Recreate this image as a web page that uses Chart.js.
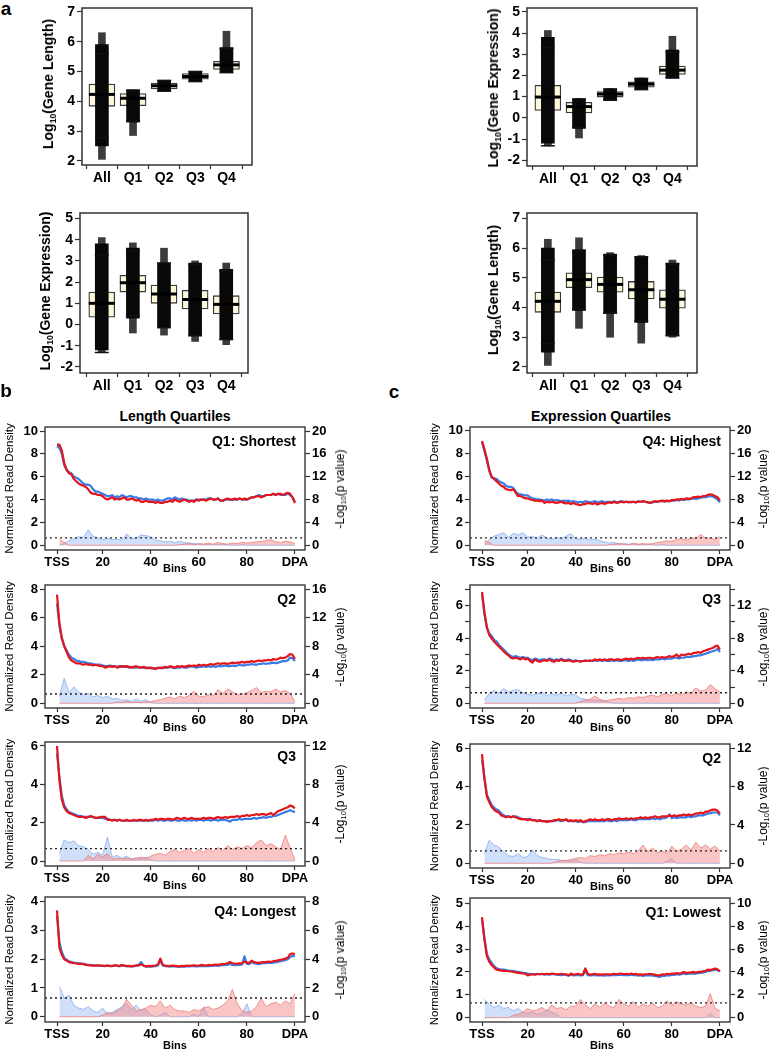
<!DOCTYPE html>
<html lang="en">
<head>
<meta charset="UTF-8" />
<title>Read density by gene length and expression quartiles</title>
<script src="https://cdn.jsdelivr.net/npm/chart.js"></script>
<style>
  body { margin: 0; background: #fff; }
  #page { position: relative; width: 769px; height: 1050px; overflow: hidden;
          font-family: Arial, "Liberation Sans", sans-serif; color: #000; }
  #page canvas { position: absolute; }
  .txt { position: absolute; white-space: nowrap; line-height: 1; transform: translate(-50%, -50%); }
  .rot { transform: translate(-50%, -50%) rotate(-90deg); }
  .rgt { transform: translate(-100%, -50%); }
  .b { font-weight: bold; }
  sub { font-size: 0.62em; vertical-align: -0.3em; line-height: 0; }
</style>
</head>
<body>
<div id="page"></div>
<script>
// ---------- box plots (panel a) ----------
const groups = ['All', 'Q1', 'Q2', 'Q3', 'Q4'];

// log10 gene length, genes split by length quartile: [lower quartile, median, upper quartile]
const lenBox   = [[3.83, 4.23, 4.58], [3.85, 4.10, 4.26], [4.41, 4.52, 4.61], [4.74, 4.83, 4.93], [5.07, 5.22, 5.34]];
const lenWhisk = [[2.78, 5.60], [3.34, 4.37], [4.34, 4.70], [4.66, 5.00], [4.96, 5.77]];
const lenCloud = [[2.50, 5.90], [3.30, 4.38], [4.34, 4.70], [4.66, 5.00], [4.98, 5.80]];
const lenTail  = [[2.05, 6.30], [2.85, 4.38], [4.34, 4.70], [4.66, 5.00], [4.98, 6.35]];

// log10 gene expression, genes split by expression quartile
const exprBox   = [[0.35, 0.98, 1.53], [0.23, 0.53, 0.73], [0.98, 1.12, 1.24], [1.45, 1.59, 1.70], [2.05, 2.25, 2.44]];
const exprWhisk = [[-1.32, 3.30], [-0.45, 0.88], [0.83, 1.36], [1.33, 1.86], [1.88, 3.10]];
const exprCloud = [[-1.20, 3.80], [-0.50, 0.90], [0.83, 1.36], [1.33, 1.86], [1.88, 3.20]];
const exprTail  = [[-1.32, 4.12], [-0.95, 0.92], [0.83, 1.38], [1.33, 1.88], [1.88, 3.85]];

// log10 gene expression, genes split by length quartile
const exprByLenBox   = [[0.35, 1.00, 1.53], [1.53, 1.97, 2.32], [1.00, 1.44, 1.86], [0.73, 1.18, 1.61], [0.50, 0.95, 1.36]];
const exprByLenWhisk = [[-1.32, 3.27], [0.42, 3.45], [-0.15, 2.90], [-0.53, 2.83], [-0.71, 2.53]];
const exprByLenCloud = [[-1.20, 3.80], [0.30, 3.60], [-0.15, 2.90], [-0.50, 2.90], [-0.70, 2.60]];
const exprByLenTail  = [[-1.30, 4.10], [-0.40, 3.85], [-0.50, 3.60], [-0.80, 3.00], [-0.95, 2.90]];

// log10 gene length, genes split by expression quartile
const lenByExprBox   = [[3.84, 4.21, 4.52], [4.67, 4.94, 5.17], [4.52, 4.78, 5.03], [4.29, 4.60, 4.88], [3.98, 4.28, 4.60]];
const lenByExprWhisk = [[2.78, 5.59], [3.95, 5.90], [3.82, 5.76], [3.55, 5.71], [3.05, 5.47]];
const lenByExprCloud = [[2.50, 6.00], [3.90, 5.95], [3.80, 5.80], [3.50, 5.70], [3.05, 5.50]];
const lenByExprTail  = [[2.05, 6.30], [3.30, 6.35], [3.00, 5.85], [2.80, 5.75], [3.00, 5.60]];

// ---------- metagene profiles (panels b, c) ----------
const binTicks  = [1, 20, 40, 60, 80, 100];
const binLabels = ['TSS', '20', '40', '60', '80', 'DPA'];
const SIG = 1.3; // -log10(0.05)

// Length Q1: Shortest
const lenQ1Red = [8.8,8.8,8.3,7.2,6.6,6.3,6.2,5.8,5.6,5.4,5.3,5.2,5.1,4.9,4.6,4.5,4.5,4.4,4.4,4.3,
  4.1,4.0,4.1,4.2,4.0,4.1,4.0,4.1,4.2,4.0,4.0,4.1,4.0,3.9,4.0,3.8,3.8,3.9,3.8,3.8,
  3.8,3.7,3.8,3.7,3.7,3.8,3.8,3.9,3.8,4.0,3.9,3.8,3.9,4.0,3.9,3.8,3.9,3.8,4.0,3.9,
  4.0,4.0,3.9,4.0,4.1,4.0,4.0,4.1,3.9,3.9,4.0,4.1,4.0,4.0,4.1,4.0,4.1,4.0,4.1,4.0,
  4.1,4.2,4.2,4.3,4.3,4.2,4.3,4.4,4.4,4.4,4.5,4.4,4.5,4.5,4.4,4.5,4.6,4.5,4.2,3.7];
const lenQ1Blue = [8.7,8.5,8.0,7.0,6.6,6.4,6.3,6.0,5.9,5.8,5.6,5.4,5.3,5.3,5.2,4.9,4.7,4.7,4.6,4.5,
  4.4,4.3,4.3,4.4,4.2,4.3,4.2,4.4,4.3,4.2,4.3,4.3,4.2,4.2,4.1,4.1,4.0,4.1,4.0,4.0,
  4.0,3.9,4.0,3.9,3.9,4.0,4.1,4.1,4.0,4.2,4.1,4.0,4.1,4.0,4.0,3.9,3.9,3.9,4.0,4.0,
  4.0,4.0,4.0,4.1,4.1,4.0,4.0,4.1,3.9,3.9,4.0,4.0,4.0,4.0,4.0,4.0,4.1,4.0,4.0,4.0,
  4.1,4.2,4.2,4.3,4.4,4.3,4.3,4.4,4.4,4.4,4.5,4.4,4.5,4.4,4.4,4.4,4.5,4.4,4.2,3.8];
const lenQ1PRed = [1.0,0.5,0,0,0, 0,0,0,0,0, 0,0,0,0,0, 0,0,0,0,0, 0,0,0,0,0,
  0.1,0.2,0.3,0.1,0.3, 0.2,0.4,0.2,0.5,0.3, 0.2,0.4,0.3,0.5,0.4, 0.5,0.6,0.7,0.8,1.0, 0.6,0.5,0.7,0.6,0.3];
const lenQ1PBlue = [0,0.3,0.8,1.2,1.5, 1.4,2.7,1.6,1.3,1.0, 1.2,1.0,1.1,0.9,2.0, 1.1,1.3,1.8,1.7,1.5,
  0.9,0.8,0.6,0.7,0.5, 0.7,0.5,0.4,0.3,0.2, 0.2,0.1,0.1,0.1,0.1, 0.1,0,0,0.1,0, 0,0,0,0,0, 0,0,0,0,0];

// Length Q2
const lenQ2Red = [7.6,5.6,4.6,4.0,3.6,3.2,3.0,2.9,2.8,2.8,2.75,2.7,2.75,2.7,2.7,2.65,2.7,2.65,2.6,2.6,
  2.5,2.55,2.6,2.55,2.6,2.5,2.55,2.6,2.55,2.6,2.55,2.5,2.55,2.6,2.5,2.5,2.55,2.5,2.45,2.5,
  2.45,2.4,2.5,2.45,2.5,2.55,2.5,2.6,2.55,2.5,2.6,2.55,2.6,2.55,2.6,2.65,2.6,2.65,2.6,2.7,
  2.65,2.7,2.65,2.7,2.75,2.7,2.75,2.8,2.75,2.8,2.8,2.75,2.8,2.85,2.8,2.85,2.85,2.9,2.85,2.9,
  2.9,2.95,2.9,2.95,3.0,2.95,3.0,3.0,3.05,3.0,3.1,3.05,3.1,3.2,3.15,3.2,3.3,3.45,3.4,3.1];
const lenQ2Blue = [7.0,5.4,4.5,4.0,3.7,3.4,3.2,3.1,3.0,2.95,2.9,2.9,2.85,2.8,2.8,2.75,2.7,2.7,2.7,2.65,
  2.6,2.6,2.65,2.6,2.6,2.55,2.6,2.55,2.6,2.55,2.5,2.55,2.5,2.5,2.55,2.5,2.5,2.45,2.5,2.45,
  2.45,2.45,2.45,2.5,2.45,2.5,2.5,2.55,2.5,2.45,2.5,2.5,2.55,2.5,2.5,2.55,2.6,2.55,2.5,2.55,
  2.55,2.6,2.55,2.6,2.55,2.6,2.55,2.6,2.6,2.6,2.65,2.6,2.6,2.65,2.6,2.65,2.7,2.65,2.65,2.7,
  2.7,2.75,2.7,2.7,2.75,2.75,2.8,2.75,2.8,2.8,2.85,2.8,2.85,2.9,2.95,2.95,3.0,3.2,3.15,2.95];
const lenQ2PRed = [0,0,0,0,0, 0,0,0,0,0, 0,0,0.2,0.1,0.3, 0.1,0.2,0.1,0.2,0.2, 0.4,0.5,0.7,0.9,0.6,
  1.0,0.8,1.1,1.7,1.0, 0.9,1.2,1.1,1.9,1.4, 2.0,1.6,1.2,1.3,1.5, 1.8,2.2,1.5,1.7,1.6, 2.0,1.6,1.8,1.4,0.2];
const lenQ2PBlue = [1.0,3.5,1.5,2.3,1.6, 1.2,1.4,0.9,1.1,0.8, 1.0,0.6,0.7,0.4,0.5, 0.3,0.6,0.3,0.5,0.1,
  0,0,0,0,0, 0,0,0,0,0, 0,0,0,0,0, 0,0,0,0,0, 0,0,0,0,0, 0,0,0,0,0];

// Length Q3
const lenQ3Red = [6.0,4.2,3.2,2.8,2.6,2.5,2.45,2.4,2.35,2.3,2.3,2.3,2.25,2.3,2.35,2.3,2.25,2.25,2.3,2.3,
  2.3,2.15,2.15,2.1,2.15,2.1,2.15,2.1,2.1,2.15,2.1,2.1,2.15,2.1,2.15,2.15,2.1,2.15,2.1,2.15,
  2.15,2.2,2.15,2.2,2.2,2.15,2.2,2.2,2.15,2.2,2.25,2.2,2.2,2.25,2.2,2.2,2.25,2.2,2.2,2.2,
  2.2,2.25,2.2,2.25,2.25,2.2,2.25,2.3,2.25,2.25,2.3,2.25,2.3,2.3,2.3,2.35,2.3,2.35,2.35,2.4,
  2.35,2.4,2.4,2.45,2.4,2.45,2.45,2.4,2.45,2.5,2.4,2.5,2.6,2.65,2.7,2.75,2.8,2.9,2.85,2.75];
const lenQ3Blue = [5.6,4.4,3.4,2.9,2.7,2.55,2.5,2.45,2.4,2.35,2.35,2.3,2.3,2.3,2.3,2.3,2.25,2.25,2.25,2.25,
  2.2,2.2,2.15,2.15,2.15,2.1,2.15,2.1,2.1,2.1,2.1,2.1,2.1,2.1,2.1,2.1,2.1,2.1,2.1,2.1,
  2.1,2.15,2.1,2.15,2.1,2.1,2.15,2.1,2.1,2.15,2.1,2.1,2.15,2.1,2.1,2.15,2.1,2.15,2.1,2.15,
  2.15,2.1,2.15,2.15,2.1,2.15,2.15,2.1,2.15,2.15,2.15,2.1,2.05,2.15,2.15,2.15,2.2,2.15,2.2,2.2,
  2.2,2.2,2.25,2.2,2.25,2.25,2.3,2.25,2.3,2.3,2.35,2.35,2.4,2.45,2.5,2.55,2.6,2.65,2.6,2.55];
const lenQ3PRed = [0,0,0,0,0, 0,0.6,0.2,0.7,0.4, 0.8,0.2,0.3,0.2,0.3, 0.2,0.3,0.4,0.3,0.5, 0.7,0.8,0.6,1.0,1.2,
  0.9,1.1,1.3,0.8,1.2, 0.9,1.3,1.0,1.4,1.1, 1.6,1.2,1.5,1.3,1.6, 1.4,1.9,2.2,1.6,1.8, 1.5,1.2,2.7,1.4,0.1];
const lenQ3PBlue = [0.8,2.2,1.9,2.1,1.6, 1.5,1.2,0.7,0.9,0.6, 2.5,0.4,0.6,0.3,0.5, 0.2,0.3,0.2,0.4,0.1,
  0,0,0,0,0, 0,0,0,0,0, 0,0,0,0,0, 0,0,0,0,0, 0,0,0,0,0, 0,0,0,0,0];

// Length Q4: Longest
const lenQ4Red = [3.7,2.4,2.15,2.0,1.95,1.9,1.88,1.86,1.85,1.84,1.84,1.83,1.8,1.79,1.78,1.78,1.78,1.79,1.78,1.77,
  1.77,1.78,1.76,1.77,1.79,1.78,1.76,1.8,1.78,1.76,1.77,1.75,1.77,1.79,1.78,1.82,1.78,1.75,1.77,1.76,
  1.77,1.78,1.82,2.02,1.8,1.78,1.77,1.76,1.78,1.77,1.76,1.75,1.77,1.76,1.78,1.77,1.78,1.79,1.77,1.78,
  1.8,1.79,1.78,1.8,1.79,1.8,1.81,1.8,1.82,1.83,1.84,1.86,1.9,1.86,1.85,1.84,1.86,1.85,1.92,1.88,
  1.87,1.95,1.9,1.88,1.87,1.89,1.9,1.9,1.92,1.9,1.93,1.94,1.96,1.98,2.0,2.02,2.05,2.18,2.2,2.18];
const lenQ4Blue = [3.5,2.6,2.25,2.05,1.98,1.93,1.9,1.88,1.87,1.86,1.85,1.84,1.82,1.8,1.8,1.79,1.78,1.78,1.77,1.77,
  1.76,1.78,1.77,1.76,1.78,1.77,1.76,1.78,1.77,1.76,1.76,1.75,1.76,1.77,1.8,1.9,1.78,1.74,1.75,1.74,
  1.75,1.76,1.78,1.95,1.78,1.76,1.75,1.75,1.76,1.75,1.74,1.74,1.75,1.74,1.76,1.75,1.76,1.76,1.75,1.76,
  1.77,1.76,1.77,1.76,1.77,1.77,1.78,1.77,1.78,1.79,1.8,1.8,1.84,1.8,1.79,1.8,1.8,1.82,2.1,1.84,
  1.83,1.9,1.86,1.84,1.83,1.85,1.86,1.86,1.87,1.87,1.88,1.9,1.91,1.93,1.95,1.97,2.0,2.08,2.12,2.1];
const lenQ4PRed = [0,0,0,0,0, 0,0,0,0,0.1, 0.3,0.2,0.4,0.6,1.2, 0.8,0.4,0.5,0.6,0.8, 0.7,1.1,0.6,0.8,0.5,
  0.4,0.4,0.3,0.5,0.4, 0.6,0.7,0.5,0.6,0.8, 1.1,1.9,0.9,0.4,0.3, 0.4,0.7,1.3,0.7,0.9, 1.0,0.8,1.1,0.9,1.6];
const lenQ4PBlue = [2.1,1.3,1.5,0.8,0.6, 0.5,0.7,0.4,0.3,0.6, 0.2,0.3,0.5,0.7,0.9, 0.5,0.8,0.4,0.5,0.1,
  0,0.1,0.3,0,0, 0,0,0,0.2,0, 0.7,0,0,0,0, 0,0,0,0.2,0.9, 0,0,0,0,0, 0,0,0,0,0];

// Expression Q4: Highest
const exprQ4Red = [9.1,8.4,7.6,6.6,6.0,5.8,5.6,5.4,5.2,5.1,4.9,4.85,4.8,4.9,4.6,4.3,4.3,4.2,4.1,4.1,
  4.0,3.95,3.9,3.9,3.85,3.9,3.7,3.8,3.75,3.8,3.75,3.7,3.75,3.8,3.7,3.65,3.7,3.6,3.7,3.6,
  3.55,3.5,3.6,3.6,3.7,3.65,3.6,3.7,3.55,3.65,3.7,3.6,3.7,3.75,3.7,3.8,3.7,3.75,3.8,3.75,
  3.8,3.75,3.8,3.8,3.75,3.8,3.8,3.85,3.8,3.75,3.7,3.8,3.85,3.8,3.85,3.9,3.85,3.9,3.85,3.95,
  3.95,4.0,4.0,4.05,4.0,4.1,4.05,4.1,4.2,4.2,4.25,4.2,4.3,4.3,4.4,4.45,4.4,4.3,4.2,3.9];
const exprQ4Blue = [9.0,8.2,7.4,6.5,5.9,5.85,5.8,5.6,5.5,5.4,5.2,5.1,5.1,5.0,4.7,4.5,4.45,4.4,4.35,4.35,
  4.2,4.1,4.05,4.0,4.0,3.95,3.9,4.0,3.95,4.0,3.9,3.95,3.9,3.85,3.9,3.85,3.9,3.8,3.85,3.8,
  3.75,3.8,3.75,3.85,3.8,3.75,3.8,3.85,3.75,3.8,3.85,3.75,3.8,3.8,3.75,3.85,3.75,3.8,3.85,3.8,
  3.8,3.8,3.75,3.8,3.75,3.85,3.8,3.8,3.8,3.75,3.7,3.75,3.8,3.8,3.85,3.85,3.8,3.85,3.85,3.9,
  3.9,3.95,3.9,4.0,3.95,4.0,4.0,4.05,4.1,4.05,4.1,4.15,4.2,4.2,4.25,4.3,4.25,4.15,4.0,3.75];
const exprQ4PRed = [0.8,0.5,0,0,0, 0,0,0,0,0, 0,0,0,0,0, 0,0,0,0,0, 0,0,0,0,0,
  0,0.1,0.2,0.3,0.2, 0.1,0.3,0.2,0.3,0.2, 0.3,0.5,0.6,0.8,0.7, 1.0,1.2,0.9,1.3,1.2, 1.9,1.2,1.3,1.0,1.5];
const exprQ4PBlue = [0.2,1.0,1.6,1.9,2.2, 1.4,2.1,1.8,2.2,1.4, 1.6,1.2,1.8,1.3,1.0, 1.4,1.1,1.6,2.0,1.2,
  1.0,1.3,0.9,1.1,0.8, 0.6,0.4,0.5,0.2,0.3, 0.2,0.3,0.1,0.1,0.2, 0.1,0,0.1,0,0, 0,0,0,0,0, 0,0,0,0,0];

// Expression Q3
const exprQ3Red = [6.85,5.6,4.7,4.2,4.0,3.8,3.65,3.5,3.35,3.2,3.05,2.95,2.8,2.75,2.8,2.75,2.7,2.8,2.7,2.75,
  2.6,2.5,2.7,2.6,2.55,2.6,2.65,2.6,2.7,2.6,2.55,2.65,2.6,2.7,2.6,2.6,2.65,2.6,2.55,2.6,
  2.6,2.55,2.6,2.6,2.6,2.65,2.6,2.7,2.65,2.7,2.65,2.7,2.65,2.7,2.7,2.65,2.7,2.7,2.65,2.7,
  2.75,2.7,2.75,2.7,2.75,2.8,2.75,2.8,2.75,2.8,2.8,2.75,2.8,2.85,2.8,2.85,2.8,2.85,2.9,2.85,
  2.9,3.0,2.85,3.0,2.95,3.0,3.05,3.0,3.1,3.1,3.15,3.1,3.2,3.25,3.3,3.35,3.4,3.5,3.55,3.3];
const exprQ3Blue = [6.7,5.5,4.65,4.3,4.15,3.9,3.8,3.6,3.45,3.3,3.15,3.0,2.9,2.85,2.9,2.85,2.8,2.85,2.8,2.8,
  2.7,2.65,2.75,2.7,2.65,2.7,2.7,2.65,2.75,2.7,2.65,2.7,2.65,2.75,2.65,2.65,2.7,2.65,2.6,2.65,
  2.6,2.6,2.6,2.65,2.6,2.6,2.6,2.65,2.6,2.65,2.6,2.65,2.6,2.6,2.65,2.6,2.65,2.6,2.6,2.65,
  2.65,2.6,2.65,2.6,2.65,2.7,2.65,2.65,2.7,2.65,2.7,2.65,2.7,2.7,2.7,2.75,2.7,2.75,2.75,2.75,
  2.8,2.8,2.75,2.8,2.8,2.85,2.85,2.85,2.9,2.9,2.95,2.95,3.0,3.05,3.1,3.15,3.2,3.25,3.35,3.15];
const exprQ3PRed = [0,0,0,0,0, 0,0,0,0,0, 0,0,0,0,0, 0,0,0,0,0, 0.2,0.4,0.5,0.9,0.5,
  0.3,0.4,0.5,0.6,0.5, 0.7,0.6,0.8,0.7,0.9, 1.0,0.8,1.1,1.2,0.9, 1.3,1.0,1.4,1.2,1.9, 1.5,1.6,2.3,1.8,1.4];
const exprQ3PBlue = [0.4,1.2,1.6,1.3,1.8, 1.4,1.6,1.7,1.3,1.1, 1.0,1.2,1.4,0.9,1.2, 1.0,1.3,0.9,1.1,1.0,
  0.6,0.5,0.3,0.4,0.3, 0.3,0.1,0,0,0, 0,0,0,0,0, 0,0,0,0,0, 0,0,0,0,0, 0,0,0,0,0];

// Expression Q2
const exprQ2Red = [5.7,4.4,3.5,3.2,2.95,2.8,2.7,2.65,2.5,2.45,2.4,2.45,2.4,2.45,2.4,2.35,2.3,2.3,2.3,2.25,
  2.3,2.25,2.25,2.2,2.25,2.2,2.2,2.15,2.2,2.2,2.25,2.25,2.3,2.25,2.25,2.3,2.2,2.25,2.2,2.25,
  2.2,2.25,2.15,2.2,2.25,2.3,2.25,2.3,2.25,2.25,2.3,2.25,2.3,2.3,2.25,2.3,2.3,2.35,2.3,2.3,
  2.35,2.3,2.35,2.3,2.35,2.35,2.4,2.35,2.4,2.35,2.4,2.4,2.45,2.4,2.4,2.45,2.45,2.45,2.5,2.45,
  2.5,2.45,2.5,2.5,2.55,2.5,2.55,2.5,2.55,2.6,2.6,2.65,2.6,2.7,2.7,2.75,2.8,2.8,2.75,2.6];
const exprQ2Blue = [5.4,4.5,3.6,3.3,3.05,2.9,2.8,2.75,2.6,2.5,2.45,2.45,2.4,2.45,2.45,2.4,2.35,2.3,2.3,2.3,
  2.3,2.25,2.25,2.2,2.25,2.2,2.2,2.2,2.2,2.2,2.2,2.25,2.25,2.2,2.25,2.25,2.2,2.2,2.2,2.2,
  2.15,2.2,2.15,2.15,2.2,2.2,2.2,2.2,2.2,2.2,2.2,2.2,2.25,2.2,2.2,2.25,2.2,2.25,2.25,2.25,
  2.25,2.25,2.3,2.25,2.25,2.3,2.3,2.3,2.3,2.3,2.3,2.35,2.3,2.35,2.3,2.35,2.35,2.4,2.55,2.35,
  2.4,2.35,2.4,2.4,2.4,2.4,2.45,2.4,2.45,2.45,2.5,2.5,2.5,2.55,2.6,2.6,2.65,2.65,2.65,2.5];
const exprQ2PRed = [0,0,0,0,0, 0,0,0,0,0, 0,0,0,0,0, 0.2,0.3,0.3,0.4,0.5, 0.6,0.5,0.8,0.7,0.9,
  0.8,1.0,0.9,1.1,1.0, 1.2,1.0,1.3,1.9,1.2, 1.6,1.1,1.3,1.0,1.8, 1.2,1.5,1.9,1.4,2.2, 1.6,1.9,1.5,1.8,1.3];
const exprQ2PBlue = [1.0,2.4,1.9,1.7,1.2, 0.8,0.7,1.0,0.6,0.7, 1.4,0.8,0.6,0.5,0.4, 0.4,0.3,0.3,0.2,0.4,
  0.1,0,0,0,0, 0,0,0,0,0, 0,0,0,0,0, 0,0,0,0.2,0.5, 0,0,0,0,0, 0,0,0,0,0];

// Expression Q1: Lowest
const exprQ1Red = [4.4,3.4,2.7,2.45,2.3,2.2,2.1,2.08,2.06,2.05,2.05,2.03,2.02,2.0,1.98,1.96,1.95,1.94,1.92,1.85,
  1.88,1.9,1.88,1.9,1.9,1.92,1.9,1.92,1.9,1.93,1.92,1.9,1.9,1.92,1.9,1.9,1.85,1.93,1.88,1.9,
  1.92,1.88,1.9,2.15,1.92,1.88,1.9,1.92,1.88,1.9,1.88,1.9,1.9,1.88,1.9,1.92,1.9,1.92,1.93,1.9,
  1.92,1.9,1.93,1.9,1.92,1.88,1.9,1.87,1.9,1.9,1.92,1.9,1.88,1.85,1.85,1.9,1.88,1.92,1.9,1.93,
  1.92,1.95,1.93,1.95,2.0,1.95,1.97,1.98,2.0,1.97,2.0,2.0,2.03,2.05,2.1,2.08,2.12,2.15,2.12,2.02];
const exprQ1Blue = [4.3,3.5,2.8,2.55,2.4,2.25,2.17,2.12,2.1,2.1,2.08,2.06,2.05,2.04,2.02,2.0,1.98,1.96,1.95,1.93,
  1.92,1.9,1.9,1.92,1.9,1.9,1.88,1.9,1.88,1.9,1.9,1.88,1.87,1.86,1.88,1.87,1.84,1.88,1.85,1.86,
  1.87,1.85,1.86,2.05,1.86,1.85,1.86,1.86,1.85,1.86,1.85,1.84,1.86,1.85,1.86,1.87,1.86,1.87,1.88,1.86,
  1.87,1.86,1.88,1.86,1.87,1.84,1.86,1.83,1.85,1.85,1.86,1.84,1.83,1.8,1.78,1.84,1.83,1.86,1.85,1.87,
  1.87,1.9,1.88,1.9,1.93,1.9,1.92,1.93,1.94,1.93,1.95,1.96,1.98,2.0,2.05,2.05,2.08,2.1,2.08,2.03];
const exprQ1PRed = [0,0,0,0,0, 0,0.2,0.3,0.5,0.8, 0.6,0.7,0.9,0.6,1.1, 0.8,0.9,0.7,1.0,1.0, 1.6,1.1,0.8,1.2,0.9,
  1.3,1.0,0.9,1.6,1.2, 1.0,1.4,0.9,1.2,1.0, 1.3,0.9,1.0,1.5,1.1, 1.4,1.2,1.1,1.3,1.0, 0.9,1.0,2.1,0.8,0.6];
const exprQ1PBlue = [1.6,1.2,0.9,1.1,0.8, 0.9,0.6,0.8,0.5,0.4, 0.5,0.3,0.4,0.7,0.5, 0.3,0,0,0,0,
  0,0,0,0,0, 0,0,0,0,0, 0,0,0,0,0, 0,0,0,0,0, 0,0,0,0,0, 0,0,0.4,0,0];

// ---------- drawing ----------
const FONT = 'Arial, "Liberation Sans", sans-serif';
Chart.defaults.font.family = FONT;
Chart.defaults.color = '#000';
Chart.defaults.animation = false;

const RED = '#e4151b', BLUE = '#3a7be6';
const BOX_FILL = '#fdf8dc';
const page = document.getElementById('page');

function addCanvas(left, top, width, height) {
  const c = document.createElement('canvas');
  c.width = width; c.height = height;
  Object.assign(c.style, {left: left + 'px', top: top + 'px', width: width + 'px', height: height + 'px'});
  page.appendChild(c);
  return c;
}

function addText(html, x, y, size, cls) {
  const d = document.createElement('div');
  d.className = 'txt ' + (cls || '');
  d.style.left = x + 'px';
  d.style.top = y + 'px';
  d.style.fontSize = size + 'px';
  d.innerHTML = html;
  page.appendChild(d);
}

// axis value range so that tick valA lands at pixel pxA and valB at pxB inside a frame [top, bottom]
function axisRange(valA, pxA, valB, pxB, top, bottom) {
  const unit = (pxB - pxA) / (valA - valB);
  return [valB - (bottom - pxB) / unit, valA + (pxA - top) / unit];
}

const framePlugin = {
  id: 'frame',
  afterDatasetsDraw(chart, args, opts) {
    const {ctx, chartArea: a} = chart;
    ctx.save();
    ctx.strokeStyle = opts.color;
    ctx.lineWidth = opts.width;
    ctx.strokeRect(a.left, a.top, a.right - a.left, a.bottom - a.top);
    ctx.restore();
  }
};

function fixedAxis(ticks, labels, font, tickLen, pad) {
  return {
    afterBuildTicks: s => { s.ticks = ticks.map(v => ({value: v})); },
    ticks: {callback: (v, i) => labels[i], font: font, color: '#000', padding: pad, autoSkip: false, maxRotation: 0},
    grid: {drawOnChartArea: false, tickLength: tickLen, tickColor: '#333', tickWidth: 1.2},
    border: {display: false}
  };
}

function boxChart(p) {
  const [x0, y0, x1, y1] = p.frame;
  const L = 46, R = 6, T = 10, B = 30;
  const cv = addCanvas(x0 - L, y0 - T, x1 - x0 + L + R, y1 - y0 + T + B);
  const [ymin, ymax] = axisRange(p.yTicks[p.yTicks.length - 1], p.tickPx[0], p.yTicks[0], p.tickPx[1], y0, y1);
  const at = (arr, f) => arr.map((r, i) => ({x: i + 1, y: f(r)}));
  const bar = {type: 'bar', grouped: false, borderSkipped: false};
  const font = {size: 14, weight: 'bold'};
  new Chart(cv, {
    type: 'bar',
    data: {datasets: [
      {...bar, data: at(p.box, r => [r[0], r[2]]), barThickness: 26, maxBarThickness: 26,
        backgroundColor: BOX_FILL, borderColor: '#3a3a3a', borderWidth: 1.3, order: 5},
      {...bar, data: at(p.tail, r => r), barThickness: 7, maxBarThickness: 7, backgroundColor: '#3c3c3c', order: 4},
      {...bar, data: at(p.cloud, r => r), barThickness: 13, maxBarThickness: 13, backgroundColor: '#080808', order: 3},
      {type: 'line', data: at(p.box, r => r[1]), showLine: false, pointStyle: 'line', pointRadius: 13,
        pointBorderWidth: 3, pointBorderColor: '#000', borderColor: '#000', order: 1},
      {type: 'line', data: at(p.whisk, r => r[0]).concat(at(p.whisk, r => r[1])), showLine: false,
        pointStyle: 'line', pointRadius: 7, pointBorderWidth: 1.5, pointBorderColor: '#111', borderColor: '#111', order: 0}
    ]},
    options: {
      responsive: false, devicePixelRatio: 1,
      layout: {padding: {top: T, right: R, left: 0, bottom: 0}},
      plugins: {legend: {display: false}, tooltip: {enabled: false}, frame: {color: '#333', width: 1.5}},
      scales: {
        x: {type: 'linear', min: p.xr[0], max: p.xr[1], offset: false,
          ...fixedAxis([1, 2, 3, 4, 5], groups, font, 4, 1), afterFit: s => { s.height = B; }},
        y: {type: 'linear', min: ymin, max: ymax,
          ...fixedAxis(p.yTicks, p.yTicks.map(String), font, 5, 2), afterFit: s => { s.width = L; }}
      }
    },
    plugins: [framePlugin]
  });
  addText(p.title, p.titlePos[0], p.titlePos[1], 14, 'b rot');
}

function lineChart(p) {
  const [x0, y0, x1, y1] = p.frame;
  const L = 45, R = 32, T = 10, B = 24;
  const cv = addCanvas(x0 - L, y0 - T, x1 - x0 + L + R, y1 - y0 + T + B);
  const [ymin, ymax] = axisRange(p.topTick, p.topPx, 0, p.zeroPx, y0, y1);
  const X_MIN = -4, X_MAX = 104.2;
  const byBin = arr => arr.map((v, i) => ({x: i + 1, y: v}));
  const byPair = arr => arr.map((v, i) => ({x: 2 * (i + 1), y: v}));
  const font = {size: 13, weight: 'bold'};
  const line = {type: 'line', pointRadius: 0, borderJoinStyle: 'round'};
  new Chart(cv, {
    type: 'line',
    data: {datasets: [
      {...line, data: byBin(p.red), borderColor: RED, borderWidth: 2.2, yAxisID: 'y', order: 0},
      {...line, data: byBin(p.blue), borderColor: BLUE, borderWidth: 2.2, yAxisID: 'y', order: 1},
      {...line, data: [{x: X_MIN, y: SIG}, {x: X_MAX, y: SIG}], borderColor: '#222', borderWidth: 1.3,
        borderDash: [2, 3], yAxisID: 'y2', order: 2},
      {...line, data: byPair(p.pRed), borderColor: 'rgba(232,120,120,0.75)', borderWidth: 1,
        backgroundColor: 'rgba(244,140,140,0.5)', fill: 'origin', yAxisID: 'y2', order: 3},
      {...line, data: byPair(p.pBlue), borderColor: 'rgba(140,175,240,0.8)', borderWidth: 1,
        backgroundColor: 'rgba(150,185,245,0.45)', fill: 'origin', yAxisID: 'y2', order: 4}
    ]},
    options: {
      responsive: false, devicePixelRatio: 1,
      layout: {padding: {top: T, right: 0, left: 0, bottom: 0}},
      plugins: {legend: {display: false}, tooltip: {enabled: false}, frame: {color: '#444', width: 1.5}},
      scales: {
        x: {type: 'linear', min: X_MIN, max: X_MAX, ...fixedAxis(binTicks, binLabels, font, 4, 1),
          afterFit: s => { s.height = B; }},
        y: {type: 'linear', position: 'left', min: ymin, max: ymax,
          ...fixedAxis(p.left, p.leftLabels, font, 5, 2), afterFit: s => { s.width = L; },
          title: {display: true, text: 'Normalized Read Density', font: {size: 11.5}, color: '#000',
            padding: {top: 3, bottom: 0}}},
        y2: {type: 'linear', position: 'right', min: 2 * ymin, max: 2 * ymax,
          ...fixedAxis(p.right, p.rightLabels, font, 5, 2), afterFit: s => { s.width = R; }}
      }
    },
    plugins: [framePlugin]
  });
  addText(p.label, x1 - 9, y0 + 14, 14, 'b rgt');
  addText('Bins', p.bins[0], p.bins[1], 11, 'b');
  addText('-Log<sub>10</sub>(p value)', p.rtitleX, (y0 + y1) / 2, 12, 'rot');
}

// panel a
addText('a', 6, 8, 19, 'b');
boxChart({frame: [82, 2, 262, 165], xr: [0.36, 5.82], yTicks: [2, 3, 4, 5, 6, 7], tickPx: [6, 160.7],
  box: lenBox, whisk: lenWhisk, cloud: lenCloud, tail: lenTail,
  title: 'Log<sub>10</sub>(Gene Length)', titlePos: [48, 84]});
boxChart({frame: [527, 2, 707, 166], xr: [0.33, 5.79], yTicks: [-2, -1, 0, 1, 2, 3, 4, 5], tickPx: [6, 160],
  box: exprBox, whisk: exprWhisk, cloud: exprCloud, tail: exprTail,
  title: 'Log<sub>10</sub>(Gene Expression)', titlePos: [493, 88]});
boxChart({frame: [80, 207, 258, 373], xr: [0.30, 5.70], yTicks: [-2, -1, 0, 1, 2, 3, 4, 5], tickPx: [212.7, 366.7],
  box: exprByLenBox, whisk: exprByLenWhisk, cloud: exprByLenCloud, tail: exprByLenTail,
  title: 'Log<sub>10</sub>(Gene Expression)', titlePos: [45, 291]});
boxChart({frame: [527, 207, 707, 373], xr: [0.33, 5.79], yTicks: [2, 3, 4, 5, 6, 7], tickPx: [212.7, 366.7],
  box: lenByExprBox, whisk: lenByExprWhisk, cloud: lenByExprCloud, tail: lenByExprTail,
  title: 'Log<sub>10</sub>(Gene Length)', titlePos: [493, 290]});

// panels b and c
addText('b', 6, 390, 19, 'b');
addText('c', 394, 391, 19, 'b');
addText('Length Quartiles', 175, 416, 14, 'b');
addText('Expression Quartiles', 601, 416, 14, 'b');

const ev = (a) => a.map(String);
lineChart({frame: [45, 427, 305, 550], topTick: 10, topPx: 431, zeroPx: 545.3,
  left: [0, 2, 4, 6, 8, 10], leftLabels: ev([0, 2, 4, 6, 8, 10]), right: [0, 4, 8, 12, 16, 20], rightLabels: ev([0, 4, 8, 12, 16, 20]),
  red: lenQ1Red, blue: lenQ1Blue, pRed: lenQ1PRed, pBlue: lenQ1PBlue, label: 'Q1: Shortest', bins: [175, 568], rtitleX: 340});
lineChart({frame: [45, 585, 305, 708], topTick: 8, topPx: 589, zeroPx: 703.3,
  left: [0, 2, 4, 6, 8], leftLabels: ev([0, 2, 4, 6, 8]), right: [0, 4, 8, 12, 16], rightLabels: ev([0, 4, 8, 12, 16]),
  red: lenQ2Red, blue: lenQ2Blue, pRed: lenQ2PRed, pBlue: lenQ2PBlue, label: 'Q2', bins: [175, 727], rtitleX: 340});
lineChart({frame: [45, 742, 305, 866], topTick: 6, topPx: 746, zeroPx: 861,
  left: [0, 2, 4, 6], leftLabels: ev([0, 2, 4, 6]), right: [0, 4, 8, 12], rightLabels: ev([0, 4, 8, 12]),
  red: lenQ3Red, blue: lenQ3Blue, pRed: lenQ3PRed, pBlue: lenQ3PBlue, label: 'Q3', bins: [175, 885], rtitleX: 340});
lineChart({frame: [45, 897, 305, 1022], topTick: 4, topPx: 901.7, zeroPx: 1016.7,
  left: [0, 1, 2, 3, 4], leftLabels: ev([0, 1, 2, 3, 4]), right: [0, 2, 4, 6, 8], rightLabels: ev([0, 2, 4, 6, 8]),
  red: lenQ4Red, blue: lenQ4Blue, pRed: lenQ4PRed, pBlue: lenQ4PBlue, label: 'Q4: Longest', bins: [175, 1045], rtitleX: 340});

lineChart({frame: [470, 427, 730, 550], topTick: 10, topPx: 430.7, zeroPx: 545.3,
  left: [0, 2, 4, 6, 8, 10], leftLabels: ev([0, 2, 4, 6, 8, 10]), right: [0, 4, 8, 12, 16, 20], rightLabels: ev([0, 4, 8, 12, 16, 20]),
  red: exprQ4Red, blue: exprQ4Blue, pRed: exprQ4PRed, pBlue: exprQ4PBlue, label: 'Q4: Highest', bins: [602, 568], rtitleX: 763});
lineChart({frame: [470, 585, 730, 708], topTick: 6, topPx: 605.7, zeroPx: 703.3,
  left: [0, 1, 2, 3, 4, 5, 6, 7], leftLabels: ['0', '', '2', '', '4', '', '6', ''],
  right: [0, 2, 4, 6, 8, 10, 12, 14], rightLabels: ['0', '', '4', '', '8', '', '12', ''],
  red: exprQ3Red, blue: exprQ3Blue, pRed: exprQ3PRed, pBlue: exprQ3PBlue, label: 'Q3', bins: [602, 727], rtitleX: 763});
lineChart({frame: [470, 744, 730, 868], topTick: 6, topPx: 748.3, zeroPx: 863.3,
  left: [0, 2, 4, 6], leftLabels: ev([0, 2, 4, 6]), right: [0, 4, 8, 12], rightLabels: ev([0, 4, 8, 12]),
  red: exprQ2Red, blue: exprQ2Blue, pRed: exprQ2PRed, pBlue: exprQ2PBlue, label: 'Q2', bins: [602, 886], rtitleX: 763});
lineChart({frame: [470, 898, 730, 1022], topTick: 5, topPx: 903.3, zeroPx: 1017.7,
  left: [0, 1, 2, 3, 4, 5], leftLabels: ev([0, 1, 2, 3, 4, 5]), right: [0, 2, 4, 6, 8, 10], rightLabels: ev([0, 2, 4, 6, 8, 10]),
  red: exprQ1Red, blue: exprQ1Blue, pRed: exprQ1PRed, pBlue: exprQ1PBlue, label: 'Q1: Lowest', bins: [602, 1045], rtitleX: 763});
</script>
</body>
</html>
